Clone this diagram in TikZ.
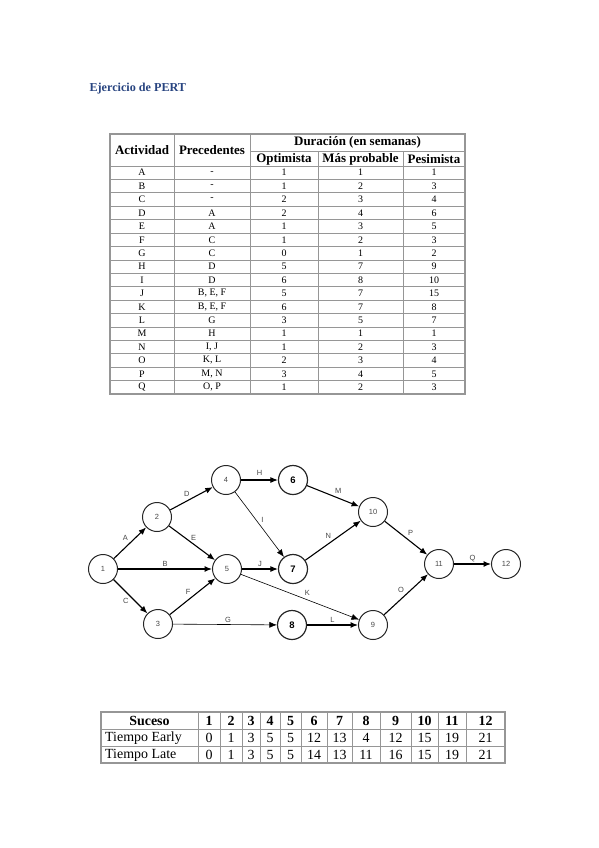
\documentclass[tikz,border=0pt]{standalone}
\usepackage{fontspec}
\setmainfont{Liberation Serif}
\setsansfont{Liberation Sans}
\usetikzlibrary{arrows.meta,positioning,calc}
\definecolor{titleblue}{RGB}{40,68,128}
\definecolor{gridgray}{RGB}{150,150,150}
\definecolor{labelgray}{RGB}{70,70,70}
\tikzset{
  ->,
  >={Latex[length=7.5bp,width=6bp]},
  event/.style={circle,draw=black!85,line width=1bp,minimum size=29bp,inner sep=0pt,
    font=\sffamily\fontsize{7.5}{8}\selectfont,text=labelgray},
  keyevent/.style={event,line width=1.2bp,font=\sffamily\bfseries\fontsize{9.5}{10}\selectfont,text=black},
  act/.style={line width=1.1bp},
  thinact/.style={line width=0.6bp},
  actlabel/.style={font=\sffamily\fontsize{7.5}{8}\selectfont,text=labelgray,inner sep=1.5bp},
  cell/.style={font=\fontsize{10}{11}\selectfont,inner sep=0pt},
  headcell/.style={font=\bfseries\fontsize{13}{14}\selectfont,inner sep=0pt},
  bigcell/.style={font=\fontsize{14}{15}\selectfont,inner sep=0pt},
  bighead/.style={font=\bfseries\fontsize{14}{15}\selectfont,inner sep=0pt},
  rule/.style={-,draw=gridgray,line width=0.7bp},
  frame/.style={-,draw=gridgray,line width=1.3bp}
}
\begin{document}
\begin{tikzpicture}[x=1bp,y=-1bp]
  \useasboundingbox (0,0) rectangle (599,848);

  \node[anchor=west,text=titleblue,font=\bfseries\fontsize{12.2}{13}\selectfont] (title) at (86,89) {Ejercicio de PERT};

  % tabla de actividades
  \foreach \i in {1,...,16}
    \draw[rule] (110,166+\i*13.41) -- (465,166+\i*13.41);
  \draw[rule] (110,166) -- (465,166);
  \draw[rule] (250,151) -- (465,151);
  \foreach \x in {174,250}
    \draw[rule] (\x,134) -- (\x,394);
  \foreach \x in {318,403}
    \draw[rule] (\x,151) -- (\x,394);
  \draw[frame] (110,134) rectangle (465,394);

  \node[headcell] (hact) at (142,150) {Actividad};
  \node[headcell] (hpre) at (212,150) {Precedentes};
  \node[headcell] (hdur) at (357.5,142.5) {Duración (en semanas)};
  \node[headcell] (hopt) at (284,159) {Optimista};
  \node[headcell] (hmp) at (360.5,159) {Más probable};
  \node[headcell] (hpes) at (434,159) {Pesimista};

  \foreach \act/\pre/\opt/\mp/\pes [count=\r, evaluate=\r as \yy using 166+(\r-0.5)*13.41] in
    {A/-/1/1/1, B/-/1/2/3, C/-/2/3/4, D/A/2/4/6, E/A/1/3/5, F/C/1/2/3,
     G/C/0/1/2, H/D/5/7/9, I/D/6/8/10, J/{B, E, F}/5/7/15, K/{B, E, F}/6/7/8,
     L/G/3/5/7, M/H/1/1/1, N/{I, J}/1/2/3, O/{K, L}/2/3/4, P/{M, N}/3/4/5,
     Q/{O, P}/1/2/3}{
    \node[cell] (act-\r) at (142,\yy) {\act};
    \node[cell] (pre-\r) at (212,\yy) {\pre};
    \node[cell] (opt-\r) at (284,\yy) {\opt};
    \node[cell] (mp-\r) at (360.5,\yy) {\mp};
    \node[cell] (pes-\r) at (434,\yy) {\pes};
  }

  % red PERT
  \node[event] (n1) at (103,569) {1};
  \node[event] (n2) at (157,517) {2};
  \node[event] (n3) at (158,624) {3};
  \node[event] (n4) at (226,480) {4};
  \node[event] (n5) at (227,569) {5};
  \node[keyevent] (n6) at (293,480) {6};
  \node[keyevent] (n7) at (293,569) {7};
  \node[keyevent] (n8) at (292,625) {8};
  \node[event] (n9) at (373,625) {9};
  \node[event] (n10) at (373,512) {10};
  \node[event] (n11) at (439,564) {11};
  \node[event] (n12) at (506,564) {12};

  \path (n1) edge[act] node[actlabel,above left] {A} (n2)
        (n1) edge[act] node[actlabel,above] {B} (n5)
        (n1) edge[act] node[actlabel,below left] {C} (n3)
        (n2) edge[act] node[actlabel,above left] {D} (n4)
        (n2) edge[act] node[actlabel,pos=0.5,above right,xshift=-3bp] {E} (n5)
        (n3) edge[act] node[actlabel,above left] {F} (n5)
        (n3) edge[thinact] node[actlabel,above,xshift=3bp] {G} (n8)
        (n4) edge[act] node[actlabel,above,yshift=2bp] {H} (n6)
        (n4) edge[thinact] node[actlabel,above right] {I} (n7)
        (n5) edge[act] node[actlabel,above] {J} (n7)
        (n5) edge[thinact] node[actlabel,above right,xshift=3bp] {K} (n9)
        (n8) edge[act] node[actlabel,above] {L} (n9)
        (n6) edge[act] node[actlabel,above right] {M} (n10)
        (n7) edge[act] node[actlabel,above left] {N} (n10)
        (n9) edge[act] node[actlabel,above left] {O} (n11)
        (n10) edge[act] node[actlabel,above right] {P} (n11)
        (n11) edge[act] node[actlabel,above] {Q} (n12);

  % tabla de sucesos
  \foreach \y in {729.5,746.5}
    \draw[rule] (101,\y) -- (505,\y);
  \foreach \x in {198,220,242,260,280,301,327,352,380,411,438,466}
    \draw[rule] (\x,712) -- (\x,763);
  \draw[frame] (101,712) rectangle (505,763);

  \node[bighead] (suc) at (149.5,720.5) {Suceso};
  \node[bigcell,anchor=west] (early) at (105,738) {Tiempo Early};
  \node[bigcell,anchor=west] (late) at (105,755) {Tiempo Late};
  \foreach \ev/\x/\te/\tl in {1/209/0/0, 2/231/1/1, 3/251/3/3, 4/270/5/5,
      5/290.5/5/5, 6/314/12/14, 7/339.5/13/13, 8/366/4/11, 9/395.5/12/16,
      10/424.5/15/15, 11/452/19/19, 12/485.5/21/21}{
    \node[bighead] (ev-\ev) at (\x,720.5) {\ev};
    \node[bigcell] (te-\ev) at (\x,738) {\te};
    \node[bigcell] (tl-\ev) at (\x,755) {\tl};
  }
\end{tikzpicture}
\end{document}
